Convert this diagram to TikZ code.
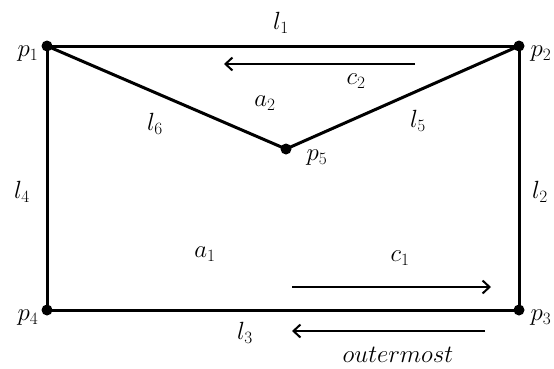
\documentclass[tikz,border=0pt]{standalone}
\usetikzlibrary{arrows.meta}
\begin{document}
\begin{tikzpicture}[x=1pt,y=-1pt,
  edge/.style={line width=3pt},
  dot/.style={circle,fill=black,inner sep=0pt,minimum size=11pt},
  flow/.style={line width=2.2pt,-{Straight Barb[length=7pt,width=13pt,line width=2pt]}},
  lab/.style={inner sep=0pt,font=\fontsize{24}{26}\selectfont}]
\useasboundingbox (0,0) rectangle (554,368);
\node[dot] (p1) at (47,46) {};
\node[dot] (p2) at (519,46) {};
\node[dot] (p3) at (519,310) {};
\node[dot] (p4) at (47,310) {};
\node[dot] (p5) at (286,149) {};
\draw[edge] (p1.center) -- (p2.center) -- (p3.center) -- (p4.center) -- cycle;
\draw[edge] (p1.center) -- (p5.center) -- (p2.center);
\coordinate (c2s) at (415,64); \coordinate (c2e) at (224,64);
\coordinate (c1s) at (292,287); \coordinate (c1e) at (491,287);
\coordinate (os) at (485,331); \coordinate (oe) at (292,331);
\draw[flow] (c2s) -- (c2e);
\draw[flow] (c1s) -- (c1e);
\draw[flow] (os) -- (oe);
\node[lab] (tp1) at (28,54) {$p_1$};
\node[lab] (tp2) at (541,54) {$p_2$};
\node[lab] (tp3) at (541,318) {$p_3$};
\node[lab] (tp4) at (28,318) {$p_4$};
\node[lab] (tp5) at (317,158) {$p_5$};
\node[lab] (tl1) at (281,23) {$l_1$};
\node[lab] (tl2) at (540,192) {$l_2$};
\node[lab] (tl3) at (245,333) {$l_3$};
\node[lab] (tl4) at (22,192) {$l_4$};
\node[lab] (tl5) at (418,121) {$l_5$};
\node[lab] (tl6) at (155,124) {$l_6$};
\node[lab] (ta1) at (205,254) {$a_1$};
\node[lab] (ta2) at (265,103) {$a_2$};
\node[lab] (tc1) at (400,258) {$c_1$};
\node[lab] (tc2) at (356,81) {$c_2$};
\node[lab] (tout) at (398,355) {$outermost$};
\end{tikzpicture}
\end{document}
